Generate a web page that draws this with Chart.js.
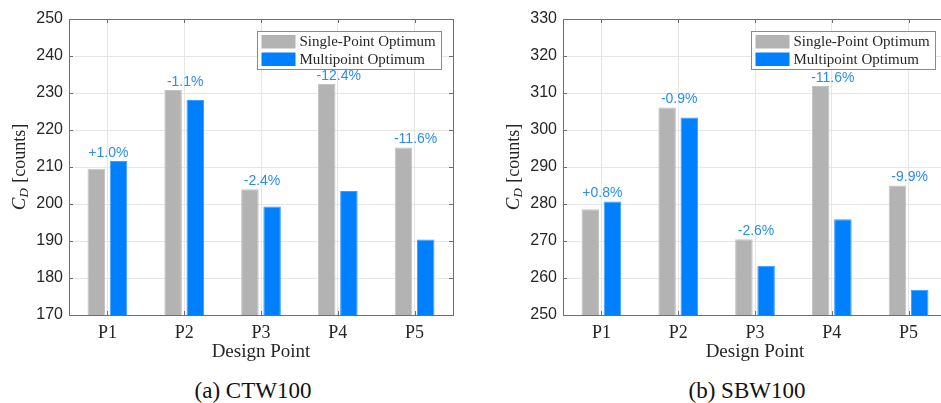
<!DOCTYPE html>
<html>
<head>
<meta charset="utf-8">
<script src="https://cdn.jsdelivr.net/npm/chart.js@4/dist/chart.umd.min.js"></script>
<style>
  html, body { margin:0; padding:0; background:#fff; }
  body { width:941px; height:403px; overflow:hidden; position:relative; }
  .wrap { position:absolute; top:0; width:494px; height:365px; }
  .cap { position:absolute; top:378px; font-family:"Liberation Serif","Times New Roman",serif; font-size:23px; color:#111; white-space:nowrap; transform:translateX(-50%); }
</style>
</head>
<body>
<div class="wrap" style="left:0px"><canvas id="c1" width="494" height="365"></canvas></div>
<div class="wrap" style="left:494px"><canvas id="c2" width="494" height="365"></canvas></div>
<div class="cap" style="left:253px">(a) CTW100</div>
<div class="cap" style="left:747px">(b) SBW100</div>
<script>
// ---- data ----
const categories = ['P1', 'P2', 'P3', 'P4', 'P5'];
const seriesNames = ['Single-Point Optimum', 'Multipoint Optimum'];

const ctwSingle = [209.5, 230.8, 204.0, 232.4, 215.3];
const ctwMulti  = [211.6, 228.1, 199.3, 203.5, 190.4];
const ctwDelta  = ['+1.0%', '-1.1%', '-2.4%', '-12.4%', '-11.6%'];
const ctwRange  = [170, 250];

const sbwSingle = [278.6, 306.1, 270.5, 311.9, 285.0];
const sbwMulti  = [280.7, 303.4, 263.3, 275.9, 256.8];
const sbwDelta  = ['+0.8%', '-0.9%', '-2.6%', '-11.6%', '-9.9%'];
const sbwRange  = [250, 330];

const yStep = 10;

// ---- styles ----
const GRAY = '#b3b3b3';
const BLUE = '#0080ff';
const LABEL_BLUE = '#2a8cf5';
const AXIS = '#6e6e6e';
const TEXT = '#262626';
const SERIF = '"Liberation Serif","Times New Roman",serif';
const SANS = '"Liberation Sans",Arial,Helvetica,sans-serif';

// frame, inner ticks, legend, delta labels, y title
const decorPlugin = {
  id: 'decor',
  afterDatasetsDraw(chart, args, opts) {
    const ctx = chart.ctx;
    const a = chart.chartArea;
    const xs = chart.scales.x, ys = chart.scales.y;
    ctx.save();
    // inner ticks
    ctx.strokeStyle = AXIS;
    ctx.lineWidth = 1;
    ctx.beginPath();
    ys.ticks.forEach(t => {
      const y = Math.round(ys.getPixelForValue(t.value)) + 0.5;
      ctx.moveTo(a.left, y); ctx.lineTo(a.left + 4, y);
      ctx.moveTo(a.right, y); ctx.lineTo(a.right - 4, y);
    });
    categories.forEach((c, i) => {
      const x = Math.round(xs.getPixelForValue(i)) + 0.5;
      ctx.moveTo(x, a.bottom); ctx.lineTo(x, a.bottom - 4);
      ctx.moveTo(x, a.top); ctx.lineTo(x, a.top + 4);
    });
    ctx.stroke();
    // frame
    ctx.strokeRect(Math.round(a.left) + 0.5, Math.round(a.top) + 0.5,
                   Math.round(a.right - a.left), Math.round(a.bottom - a.top));

    // delta labels
    const d0 = chart.data.datasets[0].data, d1 = chart.data.datasets[1].data;
    ctx.fillStyle = LABEL_BLUE;
    ctx.font = '14px ' + SANS;
    ctx.textAlign = 'center';
    ctx.textBaseline = 'bottom';
    opts.deltas.forEach((txt, i) => {
      const x = xs.getPixelForValue(i) + 1;
      const y = ys.getPixelForValue(Math.max(d0[i], d1[i])) - 1;
      ctx.fillText(txt, x, y);
    });

    // legend
    const bw = 184, bh = 38;
    const bx = Math.round(a.right - 12 - bw) + 0.5, by = Math.round(a.top + 12) + 0.5;
    ctx.fillStyle = '#fff';
    ctx.fillRect(bx, by, bw, bh);
    ctx.strokeStyle = '#8a8a8a';
    ctx.strokeRect(bx, by, bw, bh);
    ctx.font = '15px ' + SERIF;
    ctx.textAlign = 'left';
    ctx.textBaseline = 'middle';
    chart.data.datasets.forEach((ds, k) => {
      const sy = by + 3.5 + k * 17.5;
      ctx.fillStyle = ds.backgroundColor;
      ctx.fillRect(bx + 4, sy, 34, 13.5);
      ctx.fillStyle = TEXT;
      ctx.fillText(ds.label, bx + 42, sy + 7.5);
    });

    // y axis title: C_D [counts]
    const cx = a.left - 49, cy = (a.top + a.bottom) / 2;
    ctx.translate(cx, cy);
    ctx.rotate(-Math.PI / 2);
    ctx.fillStyle = TEXT;
    ctx.textBaseline = 'middle';
    const fC = 'italic 19px ' + SERIF, fD = 'italic 13px ' + SERIF, fR = '18px ' + SERIF;
    ctx.font = fC; const wC = ctx.measureText('C').width;
    ctx.font = fD; const wD = ctx.measureText('D').width;
    ctx.font = fR; const wR = ctx.measureText(' [counts]').width;
    let x0 = -(wC + wD + 1 + wR) / 2;
    ctx.font = fC; ctx.fillText('C', x0, 0); x0 += wC;
    ctx.font = fD; ctx.fillText('D', x0, 5); x0 += wD + 1;
    ctx.font = fR; ctx.fillText(' [counts]', x0, 0);
    ctx.restore();
  }
};

function makeChart(id, single, multi, deltas, range) {
  return new Chart(document.getElementById(id), {
    type: 'bar',
    data: {
      labels: categories,
      datasets: [
        { label: seriesNames[0], data: single, backgroundColor: GRAY, borderColor: '#c2c2c2', borderWidth: 1,
          categoryPercentage: 0.578, barPercentage: 0.79 },
        { label: seriesNames[1], data: multi, backgroundColor: BLUE, borderColor: '#3d9dff', borderWidth: 1,
          categoryPercentage: 0.578, barPercentage: 0.79 }
      ]
    },
    options: {
      responsive: false,
      animation: false,
      layout: { padding: { left: 0, top: 19, right: 41, bottom: 0 } },
      plugins: {
        legend: { display: false },
        tooltip: { enabled: false },
        decor: { deltas: deltas }
      },
      scales: {
        x: {
          offset: true,
          grid: { offset: false, color: '#e6e6e6', drawTicks: false },
          border: { display: false },
          ticks: { color: TEXT, font: { family: SERIF, size: 18 }, padding: 7 },
          title: { display: true, text: 'Design Point', color: TEXT,
                   font: { family: SERIF, size: 19 }, padding: { top: 0, bottom: 2 } },
          afterFit(s) { s.height = 50; }
        },
        y: {
          min: range[0], max: range[1],
          grid: { color: '#e6e6e6', drawTicks: false },
          border: { display: false },
          ticks: { stepSize: yStep, color: TEXT, font: { family: SANS, size: 16 }, padding: 6 },
          afterFit(s) { s.width = 69; }
        }
      }
    },
    plugins: [decorPlugin]
  });
}

makeChart('c1', ctwSingle, ctwMulti, ctwDelta, ctwRange);
makeChart('c2', sbwSingle, sbwMulti, sbwDelta, sbwRange);
</script>
</body>
</html>
